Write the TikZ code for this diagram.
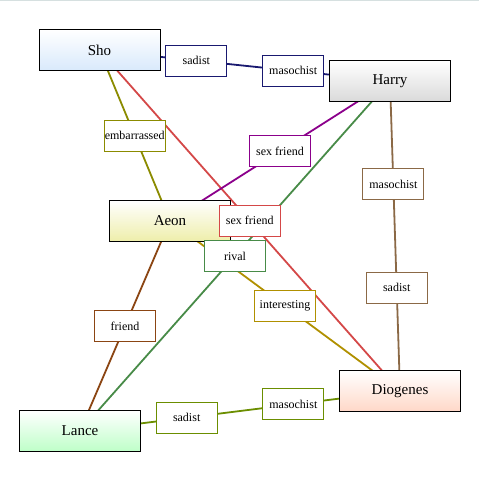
\documentclass[tikz,border=0pt]{standalone}
\usepackage{fontspec}
\setmainfont{Liberation Serif}
\newfontfamily\chartfont{Liberation Serif}
\usepackage{tikz}
\usetikzlibrary{calc}
\definecolor{shoblue}{RGB}{216,233,252}
\definecolor{harrygray}{RGB}{218,218,218}
\definecolor{aeonyellow}{RGB}{238,238,170}
\definecolor{lancegreen}{RGB}{190,255,200}
\definecolor{diogpeach}{RGB}{255,216,200}
\definecolor{edgenavy}{RGB}{25,25,112}
\definecolor{edgeolive}{RGB}{139,139,0}
\definecolor{edgered}{RGB}{212,72,72}
\definecolor{edgepurple}{RGB}{139,0,139}
\definecolor{edgegreen}{RGB}{72,139,72}
\definecolor{edgetan}{RGB}{139,105,70}
\definecolor{edgegold}{RGB}{176,144,0}
\definecolor{edgebrown}{RGB}{139,69,19}
\definecolor{edgedrab}{RGB}{107,142,0}
\tikzset{
  person/.style={draw=black, line width=1pt, minimum width=121pt, minimum height=41pt, inner sep=0pt, font=\chartfont\fontsize{15}{18}\selectfont, top color=white},
  relbox/.style={draw, line width=1pt, fill=white, minimum width=61pt, minimum height=31pt, inner sep=0.5pt, font=\chartfont\fontsize{12}{14}\selectfont},
  rel/.style={line width=1.8pt}
}
\begin{document}
\begin{tikzpicture}[x=1pt, y=-1pt]
  \useasboundingbox (0,0) rectangle (479,481);
  \draw[color={rgb,255:red,214;green,224;blue,224}, line width=1.5pt] (0,0.75) -- (479,0.75);

  % people
  \coordinate (shoc) at (99.5,50.5);
  \coordinate (harryc) at (390,81);
  \coordinate (aeonc) at (170,221);
  \coordinate (lancec) at (80,431);
  \coordinate (diogc) at (400,391);

  % relations
  \draw[rel, edgenavy] (shoc) -- (harryc);
  \draw[rel, edgeolive] (shoc) -- (aeonc);
  \draw[rel, edgered] (shoc) -- (diogc);
  \draw[rel, edgepurple] (harryc) -- (aeonc);
  \draw[rel, edgegreen] (harryc) -- (lancec);
  \draw[rel, edgetan] (harryc) -- (diogc);
  \draw[rel, edgegold] (aeonc) -- (diogc);
  \draw[rel, edgebrown] (aeonc) -- (lancec);
  \draw[rel, edgedrab] (lancec) -- (diogc);

  \node[person, bottom color=shoblue] (sho) at (shoc) {Sho};
  \node[person, bottom color=harrygray] (harry) at (harryc) {Harry};
  \node[person, bottom color=aeonyellow] (aeon) at (aeonc) {Aeon};
  \node[person, bottom color=lancegreen] (lance) at (lancec) {Lance};
  \node[person, bottom color=diogpeach] (diog) at (diogc) {Diogenes};

  % labels
  \node[relbox, draw=edgenavy] (shoharry1) at ($(shoc)!1/3!(harryc)$) {sadist};
  \node[relbox, draw=edgenavy] (shoharry2) at ($(shoc)!2/3!(harryc)$) {masochist};
  \node[relbox, draw=edgeolive] (shoaeon) at ($(shoc)!0.5!(aeonc)$) {embarrassed};
  \node[relbox, draw=edgepurple] (harryaeon) at ($(harryc)!0.5!(aeonc)$) {sex friend};
  \node[relbox, draw=edgetan] (harrydiog1) at ($(harryc)!1/3!(diogc)$) {masochist};
  \node[relbox, draw=edgetan] (harrydiog2) at ($(harryc)!2/3!(diogc)$) {sadist};
  \node[relbox, draw=edgered] (shodiog) at ($(shoc)!0.5!(diogc)$) {sex friend};
  \node[relbox, draw=edgegreen] (harrylance) at ($(harryc)!0.5!(lancec)$) {rival};
  \node[relbox, draw=edgegold] (aeondiog) at ($(aeonc)!0.5!(diogc)$) {interesting};
  \node[relbox, draw=edgebrown] (aeonlance) at ($(aeonc)!0.5!(lancec)$) {friend};
  \node[relbox, draw=edgedrab] (lancediog1) at ($(lancec)!1/3!(diogc)$) {sadist};
  \node[relbox, draw=edgedrab] (lancediog2) at ($(lancec)!2/3!(diogc)$) {masochist};
\end{tikzpicture}
\end{document}
